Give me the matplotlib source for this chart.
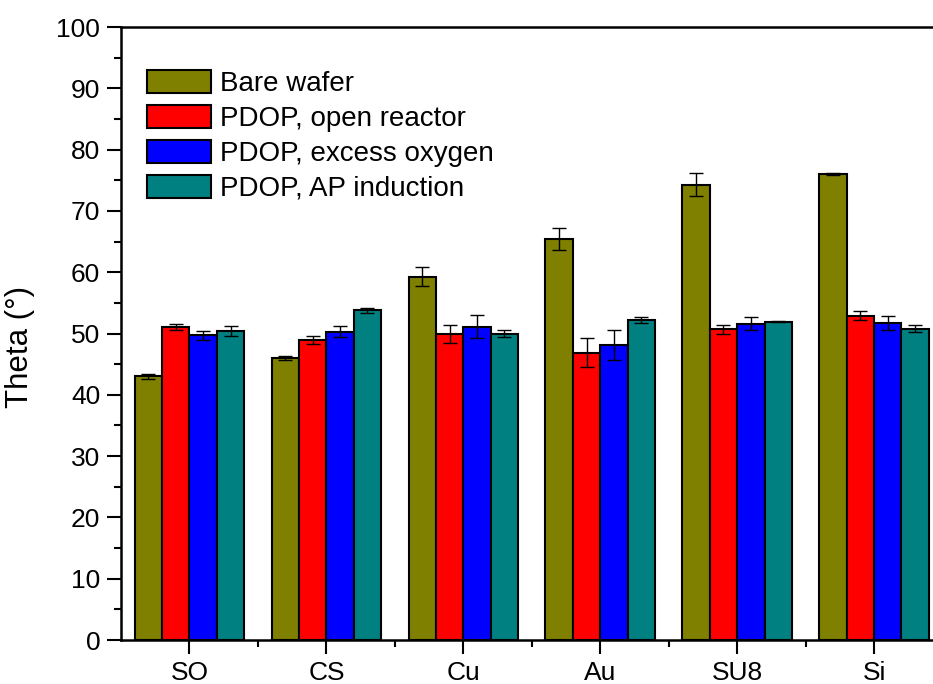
import numpy as np
import matplotlib.pyplot as plt
from matplotlib.ticker import MultipleLocator, FixedLocator

plt.rcParams['font.family'] = ['Liberation Sans', 'DejaVu Sans']

# contact angle per substrate
substrates = ["SO", "CS", "Cu", "Au", "SU8", "Si"]
series = ["Bare wafer", "PDOP, open reactor", "PDOP, excess oxygen", "PDOP, AP induction"]
colors = ["#808000", "#FF0000", "#0000FF", "#008080"]

bare = [43.0, 46.0, 59.3, 65.4, 74.3, 76.0]
bare_err = [0.4, 0.3, 1.6, 1.8, 1.9, 0.2]
open_reactor = [51.1, 49.0, 49.9, 46.9, 50.7, 52.9]
open_reactor_err = [0.5, 0.65, 1.5, 2.4, 0.7, 0.75]
excess_oxygen = [49.7, 50.3, 51.1, 48.1, 51.6, 51.7]
excess_oxygen_err = [0.7, 0.85, 1.9, 2.4, 1.1, 1.2]
ap_induction = [50.4, 53.8, 50.0, 52.2, 51.9, 50.8]
ap_induction_err = [0.8, 0.4, 0.5, 0.5, 0.1, 0.6]

values = [bare, open_reactor, excess_oxygen, ap_induction]
errors = [bare_err, open_reactor_err, excess_oxygen_err, ap_induction_err]

size = 19
fig = plt.figure(figsize=(9.33, 6.84), dpi=100)
# right spine sits just past the figure edge
ax = fig.add_axes([0.1297, 0.0643, 0.8805, 0.8962])

x = np.arange(1, len(substrates) + 1)
w = 0.2
for i, (vals, errs) in enumerate(zip(values, errors)):
    ax.bar(x + (i - 1.5) * w, vals, width=w, color=colors[i], edgecolor="black",
           linewidth=1.5, label=series[i], zorder=2)
    ax.errorbar(x + (i - 1.5) * w, vals, yerr=errs, fmt="none", ecolor="black",
                elinewidth=1.0, capsize=5, capthick=1.0, zorder=3)

ax.set_xlim(0.5, 6.5)
ax.set_ylim(0, 100)
ax.set_xticks(x)
ax.set_xticklabels(substrates)
ax.xaxis.set_minor_locator(FixedLocator(np.arange(1.5, 6.5, 1.0)))
ax.yaxis.set_major_locator(MultipleLocator(10))
ax.yaxis.set_minor_locator(MultipleLocator(5))
ax.tick_params(which="major", direction="out", length=10, width=1.5,
               labelsize=size, pad=5)
ax.tick_params(which="minor", direction="out", length=5, width=1.5)
ax.tick_params(axis="y", which="both", right=False)
ax.tick_params(axis="x", which="both", top=False)
for s in ax.spines.values():
    s.set_linewidth(1.8)

ax.set_ylabel("Theta (°)", fontsize=22.5)
ax.yaxis.set_label_coords(-0.105, 0.478)

ax.legend(loc="upper left", frameon=False, fontsize=20,
          handlelength=2.3, handleheight=0.9, handletextpad=0.32,
          labelspacing=0.28, borderaxespad=0.0, borderpad=0.0,
          bbox_to_anchor=(0.032, 0.93), bbox_transform=ax.transAxes)

fig.savefig("out.png", dpi=100)
